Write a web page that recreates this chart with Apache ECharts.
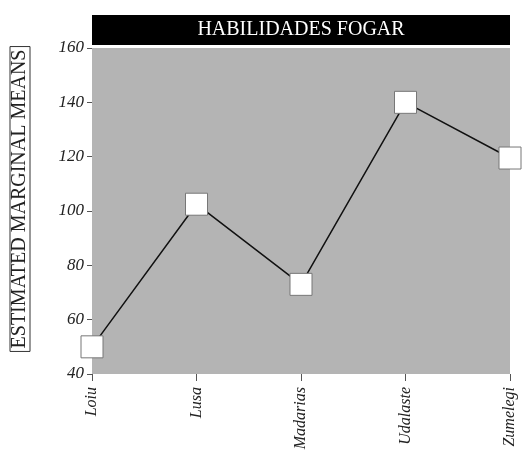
<!DOCTYPE html>
<html>
<head>
<meta charset="utf-8">
<script src="https://cdn.jsdelivr.net/npm/echarts@6/dist/echarts.min.js"></script>
<style>
  html, body { margin: 0; padding: 0; background: #fff; }
  #chart { width: 524px; height: 472px; }
</style>
</head>
<body>
<div id="chart"></div>
<script>
// datos
const categories = ['Loiu', 'Lusa', 'Madarias', 'Udalaste', 'Zumelegi'];
const means = [50, 102.5, 73, 140, 119.5];
const yTicks = [40, 160, 20]; // min, max, interval

const chart = echarts.init(document.getElementById('chart'));
const serif = '"Liberation Serif", "DejaVu Serif", serif';

const option = {
  backgroundColor: '#fff',
  animation: false,
  graphic: [
    {
      type: 'rect',
      left: 92, top: 15,
      shape: { width: 418, height: 30 },
      style: { fill: '#000' }
    },
    {
      type: 'text',
      x: 301, y: 30,
      style: {
        text: 'HABILIDADES FOGAR', fill: '#fff', font: '20px ' + serif,
        align: 'center', verticalAlign: 'middle'
      }
    },
    {
      // título del eje y, en caja
      type: 'text',
      x: 20, y: 199,
      rotation: Math.PI / 2,
      style: {
        text: 'ESTIMATED MARGINAL MEANS', fill: '#222', font: '20px ' + serif,
        align: 'center', verticalAlign: 'middle',
        borderColor: '#333', borderWidth: 1, padding: [1, 3, -1, 3]
      }
    }
  ],
  grid: { left: 92, right: 14, top: 48, bottom: 98, show: true, backgroundColor: '#b4b4b4', borderWidth: 0 },
  xAxis: {
    type: 'category',
    data: categories,
    boundaryGap: false,
    axisLine: { show: false },
    axisTick: { show: true, length: 7, alignWithLabel: true, lineStyle: { color: '#555' } },
    axisLabel: { rotate: 90, margin: 13, fontFamily: serif, fontStyle: 'italic', fontSize: 16, color: '#222' },
    splitLine: { show: false }
  },
  yAxis: {
    type: 'value',
    min: yTicks[0], max: yTicks[1], interval: yTicks[2],
    axisLine: { show: false },
    axisTick: { show: true, length: 5, lineStyle: { color: '#555' } },
    axisLabel: { margin: 8, fontFamily: serif, fontStyle: 'italic', fontSize: 17, color: '#222' },
    splitLine: { show: false }
  },
  series: [{
    type: 'line',
    data: means,
    symbol: 'rect',
    symbolSize: 22,
    lineStyle: { color: '#111', width: 1.5 },
    itemStyle: { color: '#fff', borderColor: '#777', borderWidth: 1 }
  }]
};
chart.setOption(option);
</script>
</body>
</html>
